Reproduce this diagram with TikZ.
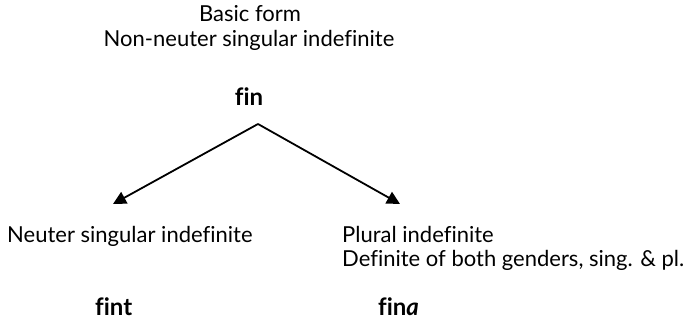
\documentclass[tikz,border=0pt]{standalone}
\usepackage{fontspec}
\setmainfont{Lato}[Ligatures=NoCommon]
\usetikzlibrary{arrows.meta}
\begin{document}
\begin{tikzpicture}[x=1pt,y=1pt,
  lbl/.style={inner sep=0pt,font=\fontsize{22}{24}\selectfont},
  word/.style={inner sep=0pt,font=\fontsize{24}{26}\selectfont\bfseries},
  arr/.style={line width=1.8pt,-{Triangle[length=13pt,width=13pt]}}]
\useasboundingbox (0,0) rectangle (685,-323);
\node[lbl,anchor=base] (basic) at (250,-22) {Basic form};
\node[lbl,anchor=base] (nonneut) at (249,-47) {Non-neuter singular indefinite};
\node[word,anchor=base] (fin) at (249,-106) {fin};
\coordinate (apex) at (258,-124);
\coordinate (lt) at (113,-204);
\coordinate (rt) at (400,-204);
\node[lbl,anchor=base west] (neut) at (7,-242) {Neuter singular indefinite};
\node[word,anchor=base west] (fint) at (95,-315) {fint};
\node[lbl,anchor=base west] (plur) at (342,-242) {Plural indefinite};
\node[lbl,anchor=base west] (defin) at (342,-266) {Definite of both genders, sing. \& pl.};
\node[word,anchor=base west] (fina) at (378,-315) {fin\textit{a}};
\draw[arr] (apex) -- (lt);
\draw[arr] (apex) -- (rt);
\end{tikzpicture}
\end{document}
